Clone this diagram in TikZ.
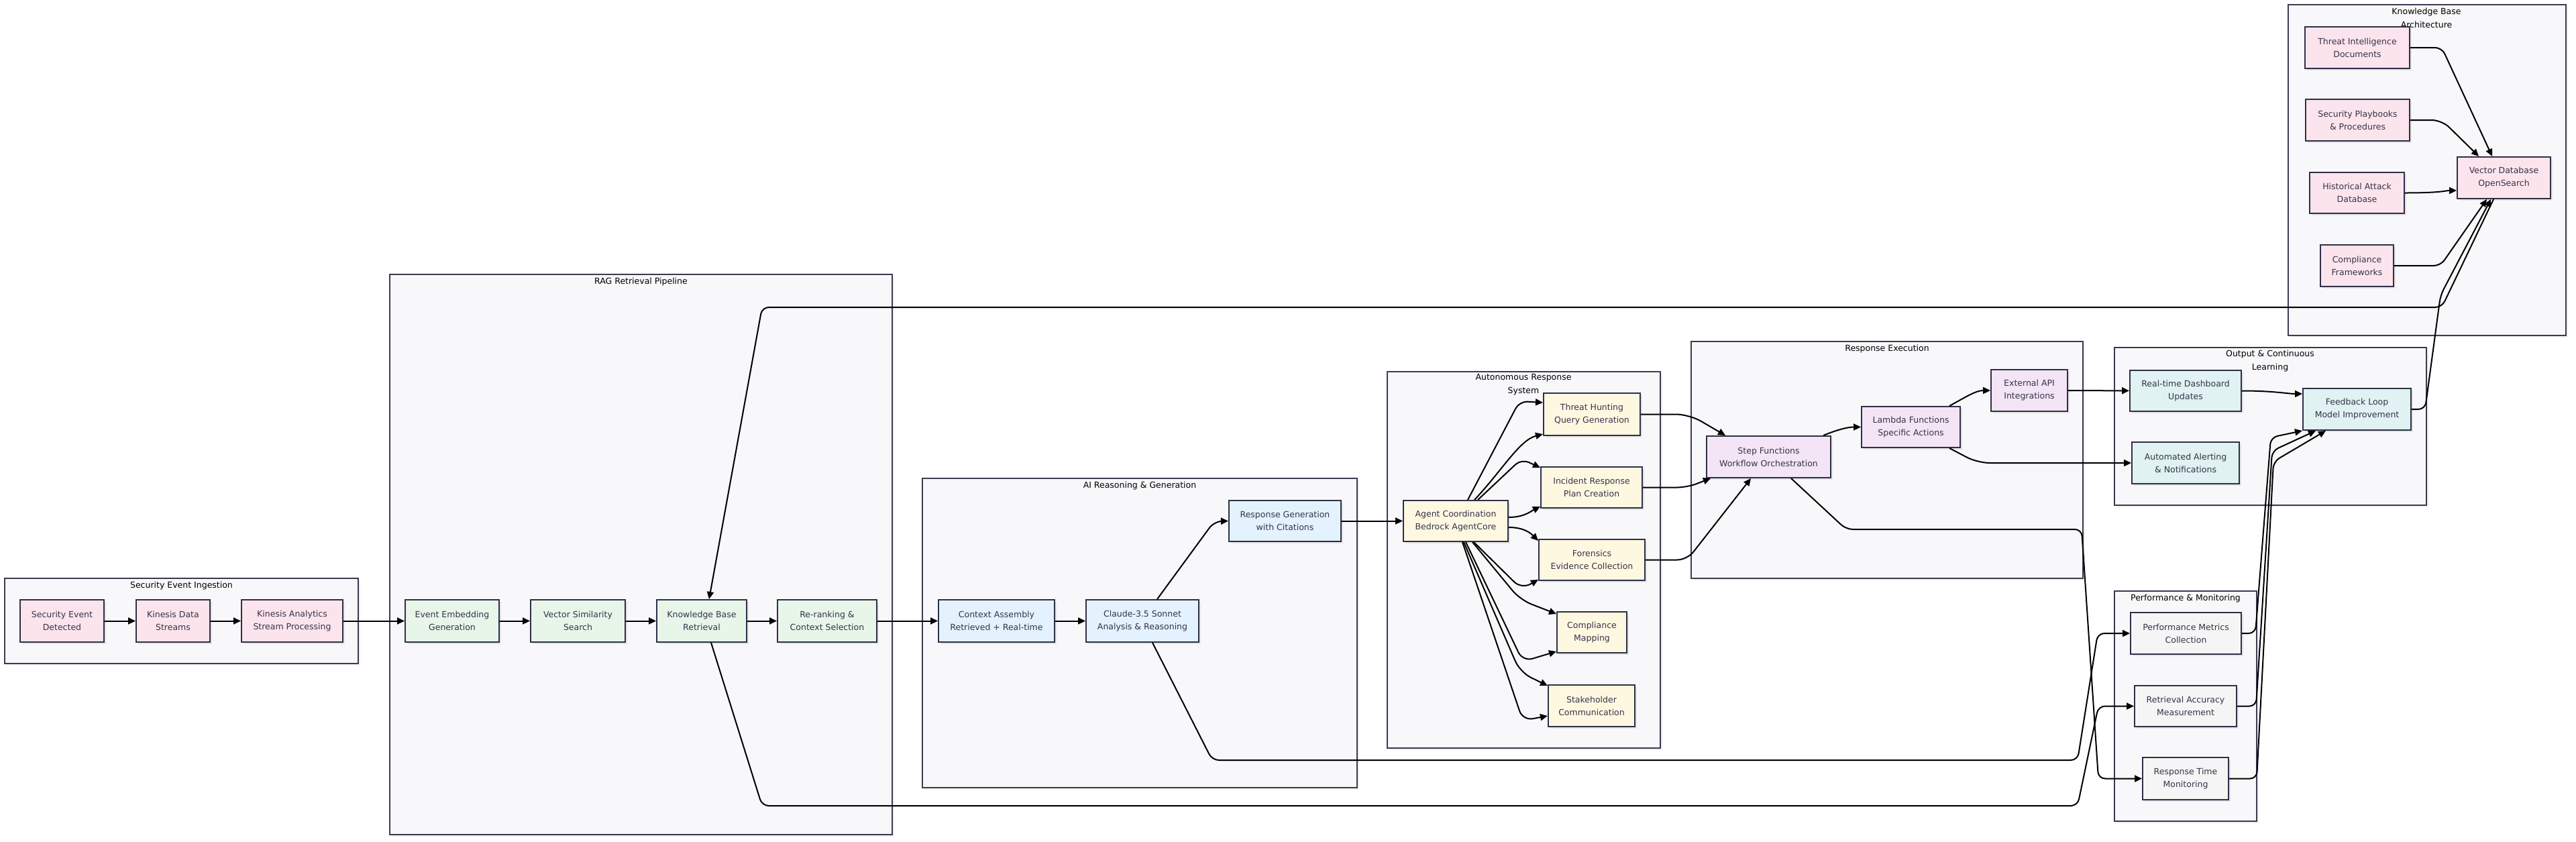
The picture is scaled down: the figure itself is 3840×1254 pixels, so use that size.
\documentclass[tikz,border=0pt]{standalone}
\usepackage{fontspec}
\setmainfont{DejaVu Sans}
\usetikzlibrary{arrows.meta,shadows}
\definecolor{cNodeBorder}{HTML}{2F2F48}
\definecolor{cClusterBorder}{HTML}{3A3A52}
\definecolor{cClusterFill}{HTML}{F8F8FA}
\definecolor{cText}{HTML}{34334A}
\definecolor{cPink}{HTML}{FCE4EC}
\definecolor{cGreen}{HTML}{E8F5E9}
\definecolor{cBlue}{HTML}{E3F2FD}
\definecolor{cYellow}{HTML}{FFF8E1}
\definecolor{cPurple}{HTML}{F3E5F5}
\definecolor{cTeal}{HTML}{E0F2F1}
\definecolor{cGray}{HTML}{F5F5F5}
\begin{document}
\begin{tikzpicture}[x=1pt,y=-1pt,
  nd/.style={draw=cNodeBorder, line width=2pt, text=cText, align=center, inner sep=0pt,
    font=\fontsize{12.5}{19}\selectfont,
    drop shadow={shadow xshift=3pt,shadow yshift=-3pt,fill=black,opacity=0.08}},
  clu/.style={draw=cClusterBorder, fill=cClusterFill, line width=2pt,
    drop shadow={shadow xshift=3pt,shadow yshift=-3pt,fill=black,opacity=0.06}},
  ttl/.style={font=\fontsize{12.5}{19.5}\selectfont, text=black, align=center, inner sep=0pt},
  arr/.style={-{Triangle[length=11pt,width=10pt]}, line width=2pt, black},
]
\useasboundingbox (0,0) rectangle (3840,1254);
\fill[white] (0,0) rectangle (3840,1254);

% clusters
\draw[clu] (7,862) rectangle (534,989);
\draw[clu] (581,409) rectangle (1330,1244);
\draw[clu] (1375,713) rectangle (2023,1174);
\draw[clu] (2068,554) rectangle (2475,1115);
\draw[clu] (2521,509) rectangle (3105,862);
\draw[clu] (3152,518) rectangle (3617,753);
\draw[clu] (3152,881) rectangle (3364,1224);
\draw[clu] (3411,7) rectangle (3825,500);

% cluster titles
\node[ttl] (t1) at (270.5,873) {Security Event Ingestion};
\node[ttl] (t2) at (955.5,420) {RAG Retrieval Pipeline};
\node[ttl] (t3) at (1699,724) {AI Reasoning \& Generation};
\node[ttl] (t4) at (2271,573) {Autonomous Response\\System};
\node[ttl] (t5) at (2813,520) {Response Execution};
\node[ttl] (t6) at (3384,538) {Output \& Continuous\\Learning};
\node[ttl] (t7) at (3258,892) {Performance \& Monitoring};
\node[ttl] (t8) at (3617,27) {Knowledge Base\\Architecture};

% nodes
\node[nd, fill=cPink, minimum width=125pt, minimum height=63pt] (se) at (92.5,925.5) {Security Event\\Detected};
\node[nd, fill=cPink, minimum width=110pt, minimum height=63pt] (kds) at (258,925.5) {Kinesis Data\\Streams};
\node[nd, fill=cPink, minimum width=151pt, minimum height=63pt] (ka) at (435.5,925.5) {Kinesis Analytics\\Stream Processing};

\node[nd, fill=cGreen, minimum width=140pt, minimum height=63pt] (eeg) at (674,925.5) {Event Embedding\\Generation};
\node[nd, fill=cGreen, minimum width=141pt, minimum height=63pt] (vss) at (861.5,925.5) {Vector Similarity\\Search};
\node[nd, fill=cGreen, minimum width=134pt, minimum height=63pt] (kbr) at (1046,925.5) {Knowledge Base\\Retrieval};
\node[nd, fill=cGreen, minimum width=148pt, minimum height=63pt] (rr) at (1233,925.5) {Re-ranking \&\\Context Selection};

\node[nd, fill=cBlue, minimum width=173pt, minimum height=63pt] (ca) at (1485.5,925.5) {Context Assembly\\Retrieved + Real-time};
\node[nd, fill=cBlue, minimum width=168pt, minimum height=63pt] (cl) at (1703,925.5) {Claude-3.5 Sonnet\\Analysis \& Reasoning};
\node[nd, fill=cBlue, minimum width=167pt, minimum height=61pt] (rg) at (1915.5,776.5) {Response Generation\\with Citations};

\node[nd, fill=cYellow, minimum width=156pt, minimum height=61pt] (ag) at (2170,776.5) {Agent Coordination\\Bedrock AgentCore};
\node[nd, fill=cYellow, minimum width=144pt, minimum height=63pt] (th) at (2373,617.5) {Threat Hunting\\Query Generation};
\node[nd, fill=cYellow, minimum width=151pt, minimum height=61pt] (ir) at (2372.5,726.5) {Incident Response\\Plan Creation};
\node[nd, fill=cYellow, minimum width=158pt, minimum height=61pt] (fo) at (2373,834.5) {Forensics\\Evidence Collection};
\node[nd, fill=cYellow, minimum width=104pt, minimum height=61pt] (cm) at (2373,942.5) {Compliance\\Mapping};
\node[nd, fill=cYellow, minimum width=129pt, minimum height=62pt] (sc) at (2372.5,1052) {Stakeholder\\Communication};

\node[nd, fill=cPurple, minimum width=185pt, minimum height=62pt] (sf) at (2636.5,681) {Step Functions\\Workflow Orchestration};
\node[nd, fill=cPurple, minimum width=147pt, minimum height=61pt] (la) at (2848.5,636.5) {Lambda Functions\\Specific Actions};
\node[nd, fill=cPurple, minimum width=114pt, minimum height=62pt] (ea) at (3025,582) {External API\\Integrations};

\node[nd, fill=cTeal, minimum width=166pt, minimum height=61pt] (db) at (3258,582.5) {Real-time Dashboard\\Updates};
\node[nd, fill=cTeal, minimum width=160pt, minimum height=62pt] (aa) at (3258,690) {Automated Alerting\\\& Notifications};
\node[nd, fill=cTeal, minimum width=161pt, minimum height=62pt] (fb) at (3513.5,610) {Feedback Loop\\Model Improvement};

\node[nd, fill=cGray, minimum width=165pt, minimum height=62pt] (pm) at (3258.5,944) {Performance Metrics\\Collection};
\node[nd, fill=cGray, minimum width=152pt, minimum height=61pt] (ram) at (3258,1052.5) {Retrieval Accuracy\\Measurement};
\node[nd, fill=cGray, minimum width=128pt, minimum height=63pt] (rtm) at (3258,1160.5) {Response Time\\Monitoring};

\node[nd, fill=cPink, minimum width=156pt, minimum height=62pt] (ti) at (3514,71) {Threat Intelligence\\Documents};
\node[nd, fill=cPink, minimum width=155pt, minimum height=62pt] (sp) at (3514.5,179) {Security Playbooks\\\& Procedures};
\node[nd, fill=cPink, minimum width=141pt, minimum height=61pt] (ha) at (3513.5,287.5) {Historical Attack\\Database};
\node[nd, fill=cPink, minimum width=109pt, minimum height=62pt] (cf) at (3513.5,396) {Compliance\\Frameworks};
\node[nd, fill=cPink, minimum width=139pt, minimum height=62pt] (vdb) at (3732.5,265) {Vector Database\\OpenSearch};

% edges: main pipeline
\draw[arr] (se) -- (kds);
\draw[arr] (kds) -- (ka);
\draw[arr] (ka) -- (eeg);
\draw[arr] (eeg) -- (vss);
\draw[arr] (vss) -- (kbr);
\draw[arr] (kbr) -- (rr);
\draw[arr] (rr) -- (ca);
\draw[arr] (ca) -- (cl);
\draw[arr, rounded corners=12pt] ([xshift=22pt]cl.north) -- (1810,777) -- (rg.west);
\draw[arr] (rg) -- (ag);

% agent fan-out
\draw[arr, rounded corners=12pt] ([xshift=18pt]ag.north) -- (2265,598) -- ([yshift=17.5pt]th.west);
\draw[arr] ([xshift=28pt]ag.north) .. controls (2240,700) and (2265,656) .. ([yshift=3pt]th.south west);
\draw[arr, rounded corners=12pt] ([xshift=33pt]ag.north) -- (2268,684) -- ([yshift=-2pt]ir.north west);
\draw[arr] ([yshift=5.5pt]ag.east) .. controls (2272,771) and (2282,762) .. ([yshift=3pt]ir.south west);
\draw[arr] ([yshift=-9.5pt]ag.east) .. controls (2272,786) and (2282,795) .. ([yshift=-3pt]fo.north west);
\draw[arr, rounded corners=15pt] ([xshift=27pt]ag.south) -- (2268,878) -- ([yshift=2pt]fo.south west);
\draw[arr, rounded corners=18pt] ([xshift=25pt]ag.south) -- (2266,894) -- ([yshift=-4pt]cm.north west);
\draw[arr, rounded corners=15pt] ([xshift=15pt]ag.south) -- (2270,986) -- ([yshift=3pt]cm.south west);
\draw[arr, rounded corners=18pt] ([xshift=12pt]ag.south) -- (2266,1002) -- ([yshift=-2pt]sc.north west);
\draw[arr, rounded corners=15pt] ([xshift=10pt]ag.south) -- (2270,1074) -- ([yshift=17pt]sc.south west);

% to step functions
\draw[arr, rounded corners=20pt] (th.east) -- (2518,617.5) -- ([xshift=29pt]sf.north west);
\draw[arr, rounded corners=15pt] (ir.east) -- (2515,726.5) -- ([xshift=7pt]sf.south west);
\draw[arr, rounded corners=15pt] (fo.east) -- (2515,834.5) -- ([xshift=67pt]sf.south west);

% response execution
\draw[arr] ([xshift=-12pt]sf.north east) .. controls (2740,640) and (2755,636.5) .. (la.west);
\draw[arr] ([xshift=-17pt]la.north east) .. controls (2930,592) and (2945,582) .. (ea.west);
\draw[arr, rounded corners=18pt] ([xshift=-17pt]la.south east) -- (2948,690) -- (aa.west);
\draw[arr] (ea) -- (db);

% long connectors to monitoring
\draw[arr, rounded corners=10pt] ([xshift=33.5pt]sf.south) -- (2752,789) -- (3103,789) -- (3128,1160.5) -- (rtm.west);
\draw[arr, rounded corners=10pt] ([xshift=15pt]cl.south) -- (1807,1133) -- (3097,1133) -- (3127,944) -- (pm.west);
\draw[arr, rounded corners=10pt] ([xshift=14pt]kbr.south) -- (1136,1201) -- (3097,1201) -- (3128,1052.5) -- (ram.west);

% knowledge base
\draw[arr, rounded corners=10pt] ([xshift=-15.5pt]vdb.south) -- (3640,458) -- (1136,458) -- ([xshift=11pt]kbr.north);
\draw[arr, rounded corners=10pt] (fb.east) -- (3615,610) -- (3638,440) -- ([xshift=-19.5pt]vdb.south);
\draw[arr, rounded corners=10pt] (cf.east) -- (3638,396) -- ([xshift=-25.5pt]vdb.south);
\draw[arr, rounded corners=10pt] (ti.east) -- (3640,71) -- ([xshift=-17.5pt]vdb.north);
\draw[arr, rounded corners=15pt] (sp.east) -- (3640,179) -- ([xshift=-37.5pt]vdb.north);
\draw[arr] (ha.east) .. controls (3640,287.5) and (3645,284) .. ([yshift=-19pt]vdb.west);

% feedback
\draw[arr] (db.east) .. controls (3390,582.5) and (3410,587) .. ([yshift=23pt]fb.west);
\draw[arr, rounded corners=10pt] (pm.east) -- (3362,944) -- (3385,652) -- (fb.south west);
\draw[arr, rounded corners=10pt] (ram.east) -- (3363,1052.5) -- (3387,672) -- ([xshift=20pt]fb.south west);
\draw[arr, rounded corners=10pt] (rtm.east) -- (3364,1160.5) -- (3389,688) -- ([xshift=35pt]fb.south west);
\end{tikzpicture}
\end{document}
